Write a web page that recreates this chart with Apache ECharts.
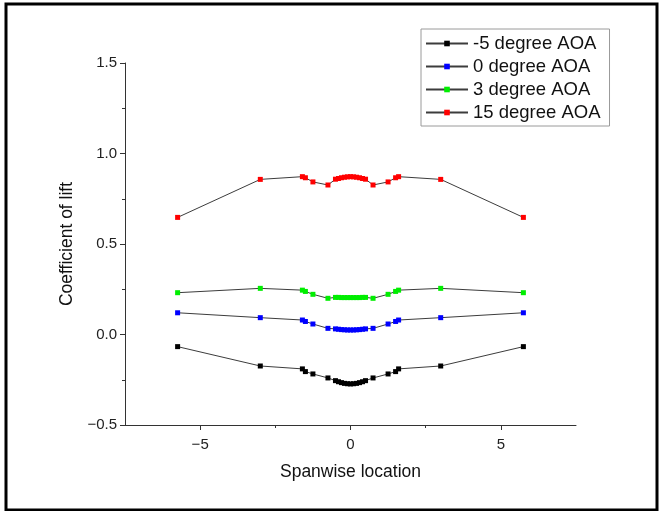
<!DOCTYPE html>
<html>
<head>
<meta charset="utf-8">
<title>Coefficient of lift vs spanwise location</title>
<script src="https://cdn.jsdelivr.net/npm/echarts@6/dist/echarts.min.js"></script>
<style>
  html, body { margin: 0; padding: 0; background: #fff; }
  #chart { width: 664px; height: 511px; }
</style>
</head>
<body>
<div id="chart"></div>
<script>
// Spanwise stations along the wing
var span = [-5.75, -3.0, -1.6, -1.5, -1.25, -0.75, -0.5, -0.4, -0.3, -0.2, -0.1, 0,
            0.1, 0.2, 0.3, 0.4, 0.5, 0.75, 1.25, 1.5, 1.6, 3.0, 5.75];

// Lift coefficient at each station, one array per angle of attack
var clMinus5 = [-0.067, -0.174, -0.190, -0.205, -0.218, -0.240, -0.255, -0.261, -0.266, -0.270, -0.272, -0.273,
                -0.272, -0.270, -0.266, -0.261, -0.255, -0.240, -0.218, -0.205, -0.190, -0.174, -0.067];
var cl0 = [0.120, 0.093, 0.080, 0.072, 0.058, 0.034, 0.031, 0.029, 0.027, 0.026, 0.025, 0.025,
           0.025, 0.026, 0.027, 0.029, 0.031, 0.034, 0.058, 0.072, 0.080, 0.093, 0.120];
var cl3 = [0.231, 0.255, 0.245, 0.238, 0.222, 0.200, 0.205, 0.205, 0.204, 0.204, 0.204, 0.204,
           0.204, 0.204, 0.204, 0.205, 0.205, 0.200, 0.222, 0.238, 0.245, 0.255, 0.231];
var cl15 = [0.647, 0.857, 0.872, 0.866, 0.843, 0.826, 0.858, 0.862, 0.866, 0.869, 0.871, 0.872,
            0.871, 0.869, 0.866, 0.862, 0.858, 0.826, 0.843, 0.866, 0.872, 0.857, 0.647];

var seriesNames = ['-5 degree AOA', '0 degree AOA', '3 degree AOA', '15 degree AOA'];
var seriesValues = [clMinus5, cl0, cl3, cl15];
var markerColors = ['#000000', '#0000ff', '#00ee00', '#ff0000'];

var xMajorTicks = [-5, 0, 5];
var xMinorTicks = [-2.5, 2.5];

var font = '"Liberation Sans", Arial, sans-serif';
var axisColor = '#333333';

function fmtNum(v, digits) {
  var s = Number(v).toFixed(digits);
  return s.charAt(0) === '-' ? '\u2212' + s.slice(1) : s;
}

function pairs(xs, ys) {
  return xs.map(function (x, i) { return [x, ys[i]]; });
}

var chart = echarts.init(document.getElementById('chart'), null, { renderer: 'canvas' });

var series = seriesNames.map(function (name, i) {
  return {
    name: name,
    type: 'line',
    xAxisIndex: 0,
    yAxisIndex: 0,
    data: pairs(span, seriesValues[i]),
    symbol: 'rect',
    symbolSize: 5,
    showAllSymbol: true,
    lineStyle: { color: '#3c3c3c', width: 1 },
    itemStyle: { color: markerColors[i] },
    emphasis: { disabled: true },
    animation: false,
    z: 2 + i
  };
});

chart.setOption({
  animation: false,
  backgroundColor: '#ffffff',
  grid: { left: 125, right: 88, top: 63, bottom: 86, containLabel: false },
  legend: {
    orient: 'vertical',
    left: 421,
    top: 29,
    data: seriesNames,
    itemWidth: 42,
    itemHeight: 7,
    itemGap: 4,
    padding: [5, 9, 4, 4],
    borderColor: '#9a9a9a',
    borderWidth: 1,
    textStyle: { fontFamily: font, fontSize: 18.5, color: '#111' },
    selectedMode: false
  },
  xAxis: [{
    type: 'value',
    min: -7.5,
    max: 7.5,
    interval: 2.5,
    position: 'bottom',
    name: 'Spanwise location',
    nameLocation: 'middle',
    nameGap: 38,
    nameTextStyle: { fontFamily: font, fontSize: 17.5, color: '#111' },
    axisLine: { show: true, onZero: false, lineStyle: { color: axisColor, width: 1 } },
    axisTick: { show: true, customValues: xMajorTicks, length: 5, lineStyle: { color: axisColor } },
    axisLabel: {
      customValues: xMajorTicks,
      margin: 12,
      fontFamily: font, fontSize: 15, color: '#222',
      formatter: function (v) { return fmtNum(v, 0); }
    },
    splitLine: { show: false }
  }, {
    type: 'value',
    min: -7.5,
    max: 7.5,
    interval: 2.5,
    position: 'bottom',
    axisLine: { show: false, onZero: false },
    axisTick: { show: true, customValues: xMinorTicks, length: 3, lineStyle: { color: axisColor } },
    axisLabel: { show: false },
    splitLine: { show: false }
  }],
  yAxis: {
    type: 'value',
    min: -0.5,
    max: 1.5,
    interval: 0.5,
    name: 'Coefficient of lift',
    nameLocation: 'middle',
    nameGap: 41,
    nameTextStyle: { fontFamily: font, fontSize: 17.5, color: '#111' },
    axisLine: { show: true, onZero: false, lineStyle: { color: axisColor, width: 1 } },
    axisTick: { show: true, length: 5, lineStyle: { color: axisColor } },
    minorTick: { show: true, splitNumber: 2, length: 3, lineStyle: { color: axisColor } },
    axisLabel: {
      margin: 8,
      fontFamily: font, fontSize: 15, color: '#222',
      formatter: function (v) { return fmtNum(v, 1); }
    },
    splitLine: { show: false },
    minorSplitLine: { show: false }
  },
  graphic: [{
    type: 'rect',
    shape: { x: 6, y: 4, width: 651, height: 506 },
    style: { fill: 'none', stroke: '#000', lineWidth: 3 },
    silent: true,
    z: 100
  }],
  series: series
});
</script>
</body>
</html>
